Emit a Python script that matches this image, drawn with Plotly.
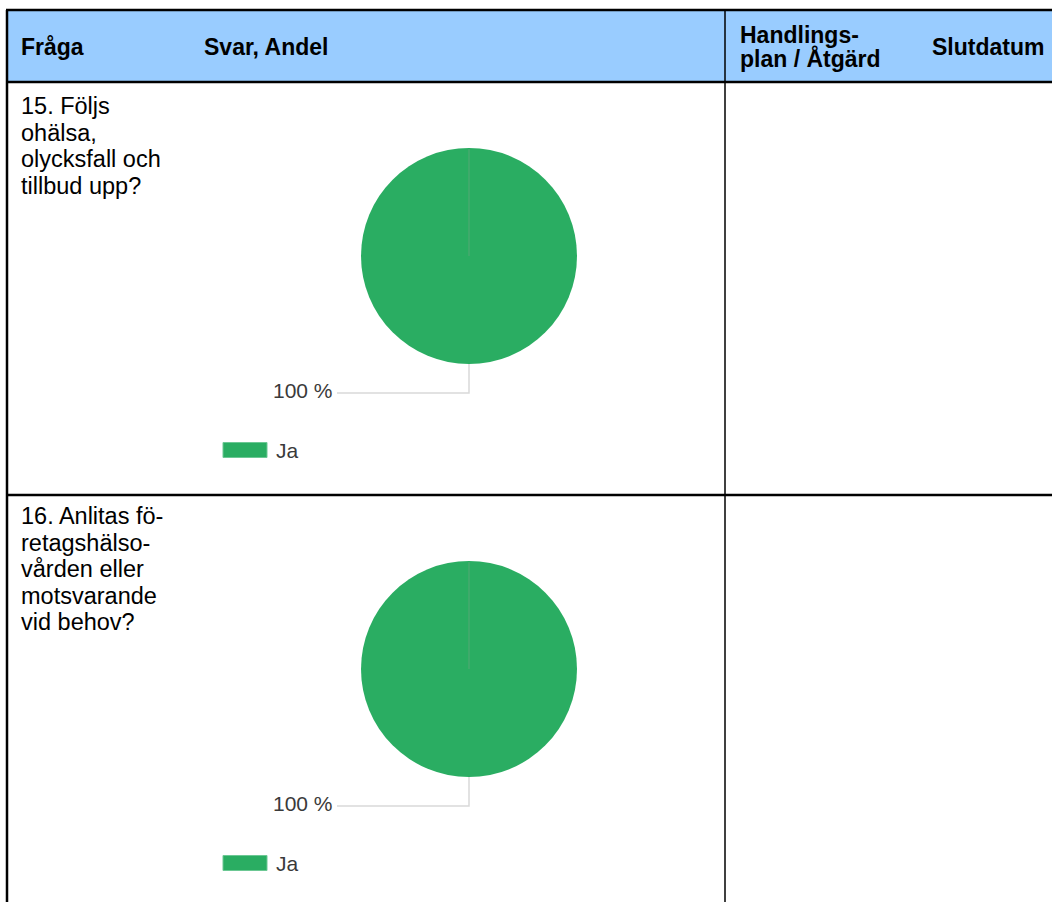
import plotly.graph_objects as go

# ---------------- data ----------------
headers = ["Fråga", "Svar, Andel", "Handlings-<br>plan / Åtgärd", "Slutdatum"]
questions = [
    ["15. Följs", "ohälsa,", "olycksfall och", "tillbud upp?"],
    ["16. Anlitas fö-", "retagshälso-", "vården eller", "motsvarande", "vid behov?"],
]
answer_labels = ["Ja"]
answer_shares = [[100], [100]]
answer_colors = ["#2AAD62"]

# ---------------- layout helpers ----------------
W, H = 1052, 902
FONT = "Arial, Liberation Sans, sans-serif"


def px(x):
    return x / W


def py(y):
    return 1 - y / H


TABLE_LEFT, TABLE_TOP, HEADER_BOTTOM = 7, 10, 82
ROW_H = 413
DIVIDER_X = 725
PIE_CX, PIE_TOP_OFF, PIE_R = 469, 66, 108   # pie top offset within row
TEXT_OFF = [24, 21]

fig = go.Figure()
shapes = []
annotations = []

# header background
shapes.append(dict(type="rect", xref="paper", yref="paper", layer="below",
                   x0=px(TABLE_LEFT), x1=px(W), y0=py(HEADER_BOTTOM), y1=py(TABLE_TOP),
                   fillcolor="#99CCFF", line=dict(width=0)))

# header texts
hdr_font = dict(family=FONT, size=23, color="black")
hdr = []
hdr.append(dict(text="<b>%s</b>" % headers[0], x=px(19), y=py(47)))
hdr.append(dict(text="<b>%s</b>" % headers[1], x=px(202), y=py(47)))
for i, part in enumerate(headers[2].split("<br>")):
    hdr.append(dict(text="<b>%s</b>" % part, x=px(738), y=py(35 + 23 * i)))
hdr.append(dict(text="<b>%s</b>" % headers[3], x=px(930), y=py(47)))
for a in hdr:
    a.update(xref="paper", yref="paper", xanchor="left", yanchor="middle",
             showarrow=False, font=hdr_font)
annotations += hdr

for r, (qlines, shares) in enumerate(zip(questions, answer_shares)):
    top = HEADER_BOTTOM + r * ROW_H
    # question text
    for i, line in enumerate(qlines):
        annotations.append(dict(text=line, x=px(19), y=py(top + TEXT_OFF[r] + 26.6 * i),
                                xref="paper", yref="paper", xanchor="left",
                                yanchor="middle", showarrow=False,
                                font=dict(family=FONT, size=23.5, color="black")))
    # pie
    ptop = top + PIE_TOP_OFF
    fig.add_trace(go.Pie(
        labels=answer_labels, values=shares,
        marker=dict(colors=answer_colors, line=dict(width=0)),
        textinfo="none", sort=False, direction="clockwise", rotation=0,
        showlegend=False, hoverinfo="label+percent",
        domain=dict(x=[px(PIE_CX - PIE_R), px(PIE_CX + PIE_R)],
                    y=[py(ptop + 2 * PIE_R), py(ptop)]),
    ))
    # radial seam line (start of slice)
    shapes.append(dict(type="line", xref="paper", yref="paper",
                       x0=px(PIE_CX), x1=px(PIE_CX), y0=py(ptop + PIE_R), y1=py(ptop + 1),
                       line=dict(color="rgba(140,160,140,0.45)", width=1)))
    # leader line
    pbot = ptop + 2 * PIE_R
    ly = pbot + 29
    shapes.append(dict(type="path", xref="paper", yref="paper",
                       path="M %f,%f L %f,%f L %f,%f" % (px(PIE_CX), py(pbot), px(PIE_CX), py(ly),
                                                         px(337), py(ly)),
                       line=dict(color="#D9D9D9", width=1.5)))
    total = sum(shares)
    pct = shares[0] / total * 100
    annotations.append(dict(text="%d %%" % round(pct), x=px(335), y=py(ly - 3),
                            xref="paper", yref="paper", xanchor="right", yanchor="middle",
                            showarrow=False, font=dict(family=FONT, size=21, color="#3A3A3A")))
    # legend
    lgy = top + 368
    for k, lab in enumerate(answer_labels):
        shapes.append(dict(type="rect", xref="paper", yref="paper",
                           x0=px(223), x1=px(267), y0=py(lgy + 7.5), y1=py(lgy - 7.5),
                           fillcolor=answer_colors[k], line=dict(color="#6CC894", width=1)))
        annotations.append(dict(text=lab, x=px(274), y=py(lgy), xref="paper", yref="paper",
                                xanchor="left", yanchor="middle", showarrow=False,
                                font=dict(family=FONT, size=21, color="#3A3A3A")))

# table lines
line_k = dict(type="line", xref="paper", yref="paper", layer="above")
shapes.append(dict(line_k, x0=px(TABLE_LEFT - 1), x1=px(W), y0=py(TABLE_TOP), y1=py(TABLE_TOP),
                   line=dict(color="black", width=2.5)))
shapes.append(dict(line_k, x0=px(TABLE_LEFT), x1=px(TABLE_LEFT), y0=py(TABLE_TOP), y1=py(H),
                   line=dict(color="black", width=2.5)))
shapes.append(dict(line_k, x0=px(TABLE_LEFT), x1=px(W), y0=py(HEADER_BOTTOM), y1=py(HEADER_BOTTOM),
                   line=dict(color="black", width=2.5)))
shapes.append(dict(line_k, x0=px(TABLE_LEFT), x1=px(W), y0=py(HEADER_BOTTOM + ROW_H),
                   y1=py(HEADER_BOTTOM + ROW_H), line=dict(color="black", width=2.5)))
shapes.append(dict(line_k, x0=px(DIVIDER_X), x1=px(DIVIDER_X), y0=py(TABLE_TOP), y1=py(H),
                   line=dict(color="black", width=1.5)))

fig.update_layout(
    width=W, height=H, margin=dict(l=0, r=0, t=0, b=0),
    paper_bgcolor="white", plot_bgcolor="white",
    shapes=shapes, annotations=annotations, showlegend=False,
)

fig.write_html("out.html")
